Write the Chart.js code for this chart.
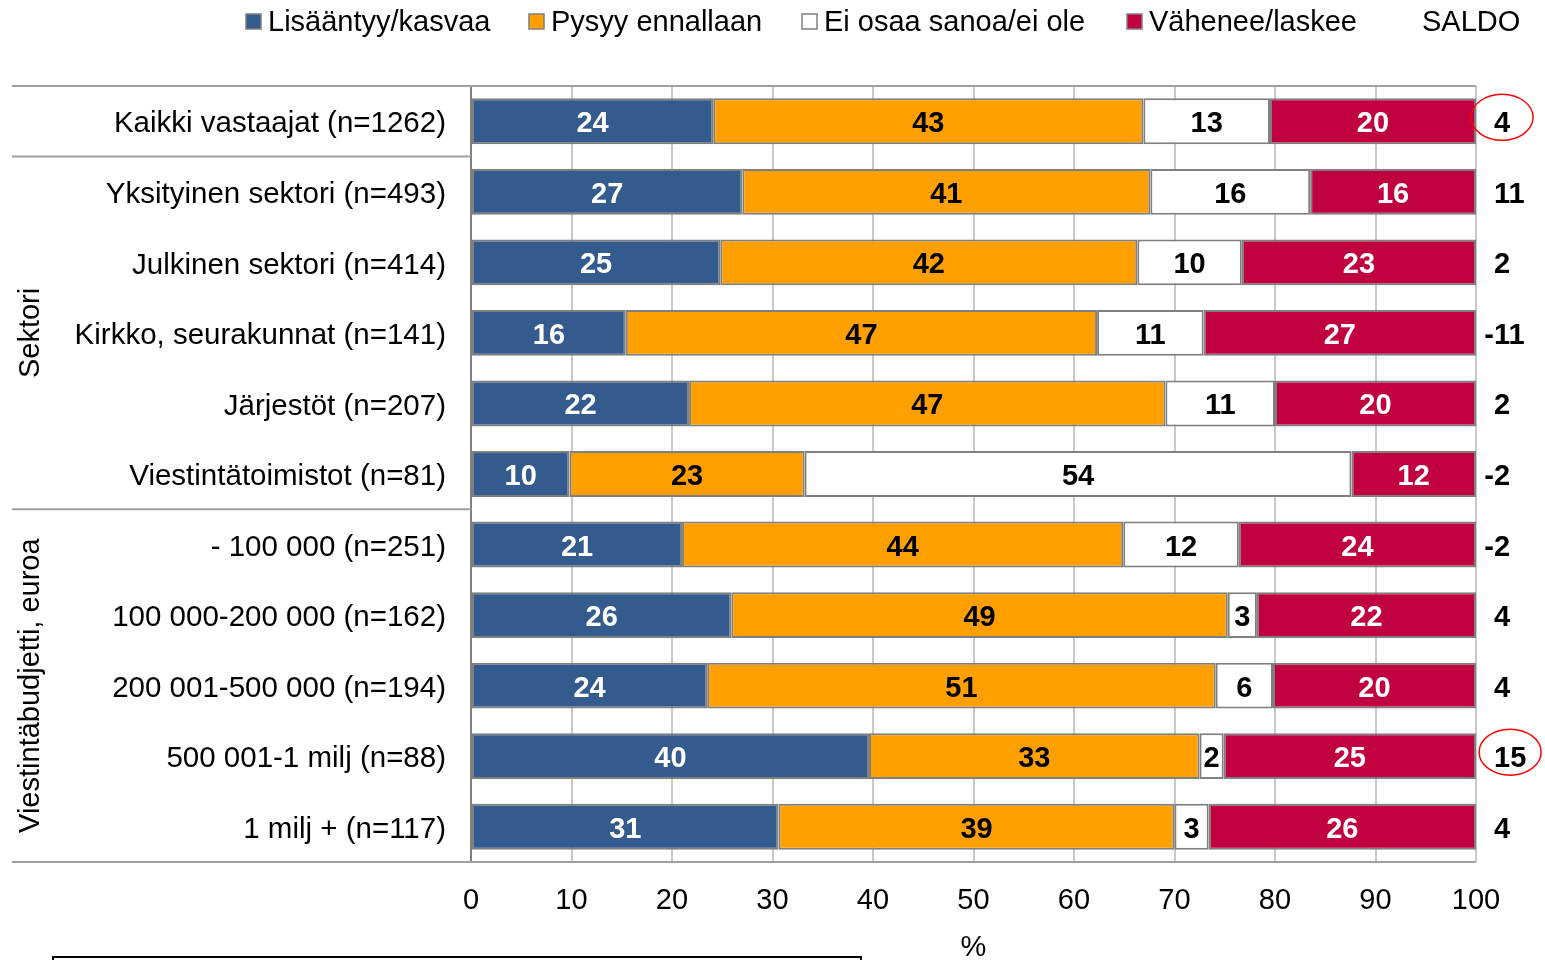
<!DOCTYPE html>
<html>
<head>
<meta charset="utf-8">
<script src="https://cdn.jsdelivr.net/npm/chart.js@4.4.1/dist/chart.umd.min.js"></script>
<style>
  body { margin: 0; background: #fff; }
  #wrap { width: 1545px; height: 960px; position: relative; }
</style>
</head>
<body>
<div id="wrap"><canvas id="kaavio" width="1545" height="960"></canvas></div>
<script>
// ryhmät
const ryhmat = [
    "Kaikki vastaajat (n=1262)",
    "Yksityinen sektori (n=493)",
    "Julkinen sektori (n=414)",
    "Kirkko, seurakunnat (n=141)",
    "Järjestöt (n=207)",
    "Viestintätoimistot (n=81)",
    "- 100 000 (n=251)",
    "100 000-200 000 (n=162)",
    "200 001-500 000 (n=194)",
    "500 001-1 milj (n=88)",
    "1 milj + (n=117)"
];

// palkkien pituudet (luettu kuvasta, %)
const kasvaa    = [24.1, 27.0, 24.8, 15.4, 21.7,  9.8, 21.0, 25.9, 23.5, 39.6, 30.6];
const ennallaan = [42.8, 40.6, 41.5, 46.9, 47.4, 23.4, 43.9, 49.4, 50.6, 32.9, 39.4];
const eiOsaa    = [12.6, 15.9, 10.4, 10.6, 10.9, 54.4, 11.5,  2.9,  5.7,  2.4,  3.4];
const vahenee   = [20.5, 16.5, 23.3, 27.1, 20.0, 12.4, 23.6, 21.8, 20.2, 25.1, 26.6];

// palkkien päällä näkyvät luvut
const kasvaaLuku    = [24, 27, 25, 16, 22, 10, 21, 26, 24, 40, 31];
const ennallaanLuku = [43, 41, 42, 47, 47, 23, 44, 49, 51, 33, 39];
const eiOsaaLuku    = [13, 16, 10, 11, 11, 54, 12,  3,  6,  2,  3];
const vaheneeLuku   = [20, 16, 23, 27, 20, 12, 24, 22, 20, 25, 26];

const saldo = [4, 11, 2, -11, 2, -2, -2, 4, 4, 15, 4];
const ympyroidyt = [0, 9];

const xTikit = [0, 10, 20, 30, 40, 50, 60, 70, 80, 90, 100];

const fontti = '"Liberation Sans", Arial, sans-serif';
const sininen = 'rgb(51,91,142)';
const oranssi = 'rgb(255,160,0)';
const valkoinen = '#ffffff';
const punainen = 'rgb(192,0,64)';
const reuna = '#7f7f7f';

const selite = [
    { teksti: 'Lisääntyy/kasvaa', vari: sininen, x: 246 },
    { teksti: 'Pysyy ennallaan', vari: oranssi, x: 529 },
    { teksti: 'Ei osaa sanoa/ei ole', vari: valkoinen, x: 802 },
    { teksti: 'Vähenee/laskee', vari: punainen, x: 1127 }
];

const lisat = {
    id: 'lisat',
    beforeDatasetsDraw(chart) {
        const ctx = chart.ctx;
        const y = chart.scales.y;
        const a = chart.chartArea;
        ctx.save();
        ctx.strokeStyle = '#a0a0a0';
        ctx.lineWidth = 2;
        ctx.beginPath();
        ctx.moveTo(12, a.top); ctx.lineTo(a.right, a.top);
        ctx.moveTo(12, a.bottom); ctx.lineTo(a.right, a.bottom);
        [0, 5].forEach(i => {
            const yy = (y.getPixelForValue(i) + y.getPixelForValue(i + 1)) / 2;
            ctx.moveTo(12, yy); ctx.lineTo(a.left, yy);
        });
        ctx.stroke();
        ctx.restore();
    },
    afterDatasetsDraw(chart) {
        const ctx = chart.ctx;
        const luvut = [kasvaaLuku, ennallaanLuku, eiOsaaLuku, vaheneeLuku];
        const varit = ['#fff', '#000', '#000', '#fff'];
        ctx.save();
        ctx.font = 'bold 29px ' + fontti;
        ctx.textAlign = 'center';
        ctx.textBaseline = 'middle';
        chart.data.datasets.forEach((ds, d) => {
            chart.getDatasetMeta(d).data.forEach((el, i) => {
                const p = el.getProps(['x', 'y', 'base'], true);
                ctx.fillStyle = varit[d];
                ctx.fillText(luvut[d][i], (p.x + p.base) / 2, p.y + 3);
            });
        });

        // saldo
        const ys = chart.scales.y;
        ctx.fillStyle = '#000';
        ctx.textAlign = 'left';
        const miinus = ctx.measureText('-').width;
        saldo.forEach((s, i) => {
            const yy = ys.getPixelForValue(i) + 3;
            ctx.fillText(String(s), s < 0 ? 1494 - miinus : 1494, yy);
        });

        // punaiset ympyrät
        ctx.strokeStyle = '#ff0000';
        ctx.lineWidth = 1.5;
        ympyroidyt.forEach(i => {
            const w = ctx.measureText(String(saldo[i])).width;
            ctx.beginPath();
            ctx.ellipse(1494 + w / 2, ys.getPixelForValue(i) - 4, 31, 23, 0, 0, Math.PI * 2);
            ctx.stroke();
        });
        ctx.restore();
    },
    afterDraw(chart) {
        const ctx = chart.ctx;
        const ys = chart.scales.y;
        ctx.save();
        // selite
        ctx.font = '29px ' + fontti;
        ctx.textBaseline = 'middle';
        ctx.textAlign = 'left';
        selite.forEach(s => {
            ctx.fillStyle = s.vari;
            ctx.fillRect(s.x, 14, 15, 15);
            ctx.strokeStyle = reuna;
            ctx.lineWidth = 1.5;
            ctx.strokeRect(s.x, 14, 15, 15);
            ctx.fillStyle = '#000';
            ctx.fillText(s.teksti, s.x + 22, 23);
        });
        ctx.fillText('SALDO', 1422, 23);

        // ryhmien otsikot
        const ryhma = (teksti, y) => {
            ctx.save();
            ctx.translate(31, y);
            ctx.rotate(-Math.PI / 2);
            ctx.textAlign = 'center';
            ctx.fillText(teksti, 0, 0);
            ctx.restore();
        };
        ryhma('Sektori', ys.getPixelForValue(3));
        ryhma('Viestintäbudjetti, euroa', ys.getPixelForValue(8));

        // alareunan laatikko
        ctx.strokeStyle = '#000';
        ctx.lineWidth = 2;
        ctx.strokeRect(53, 957, 808, 30);
        ctx.restore();
    }
};

const pohja = { borderColor: reuna, borderWidth: 2, borderSkipped: false,
    barPercentage: 0.65, categoryPercentage: 1 };

new Chart(document.getElementById('kaavio'), {
    type: 'bar',
    data: {
        labels: ryhmat,
        datasets: [
            { ...pohja, label: 'Lisääntyy/kasvaa', data: kasvaa, backgroundColor: sininen },
            { ...pohja, label: 'Pysyy ennallaan', data: ennallaan, backgroundColor: oranssi },
            { ...pohja, label: 'Ei osaa sanoa/ei ole', data: eiOsaa, backgroundColor: valkoinen },
            { ...pohja, label: 'Vähenee/laskee', data: vahenee, backgroundColor: punainen }
        ]
    },
    options: {
        indexAxis: 'y',
        responsive: false,
        animation: false,
        layout: { padding: { top: 86, right: 69, left: 0, bottom: 0 } },
        plugins: { legend: { display: false }, tooltip: { enabled: false } },
        scales: {
            x: {
                stacked: true,
                min: 0, max: 100,
                afterBuildTicks: s => { s.ticks = xTikit.map(v => ({ value: v })); },
                afterFit: s => { s.height = 98; },
                grid: { color: '#c8c8c8', lineWidth: 2, drawTicks: false },
                border: { display: false },
                ticks: { color: '#000', padding: 22, font: { size: 29, family: fontti } },
                title: { display: true, text: '%', color: '#000', padding: { top: 0, bottom: -5 },
                    font: { size: 29, family: fontti } }
            },
            y: {
                stacked: true,
                afterFit: s => { s.width = 471; },
                grid: { display: false },
                border: { display: true, color: '#808080', width: 2 },
                ticks: { color: '#000', padding: 17, labelOffset: 3, font: { size: 29.5, family: fontti } }
            }
        }
    },
    plugins: [lisat]
});
</script>
</body>
</html>
